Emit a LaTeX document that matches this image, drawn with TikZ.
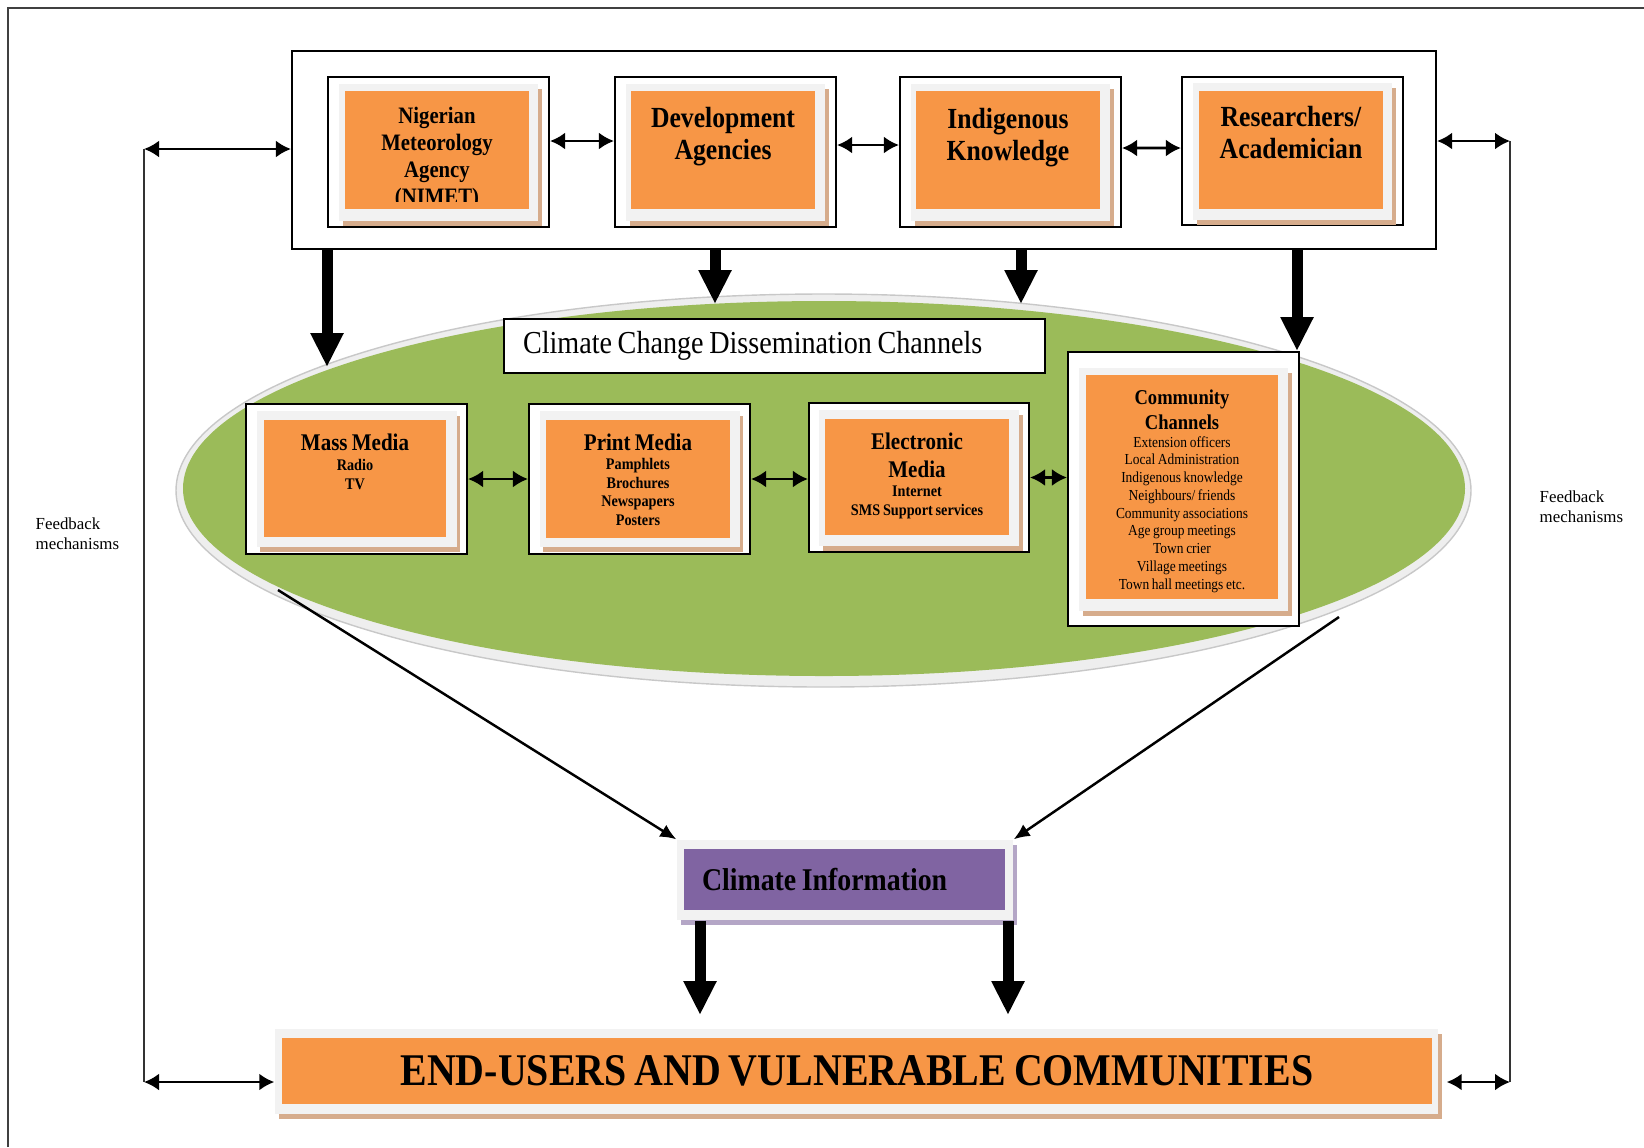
\documentclass[tikz,border=0pt]{standalone}
\usepackage{fontspec}
\setmainfont{Liberation Serif}[FakeStretch=0.88, WordSpace=0.8]
\newfontfamily\plainfont{Liberation Serif}
\usetikzlibrary{arrows.meta,shapes.geometric,shadows}

\definecolor{blockorange}{RGB}{247,150,70}
\definecolor{fieldgreen}{RGB}{155,187,89}
\definecolor{infopurple}{RGB}{128,100,162}
\definecolor{panelgray}{RGB}{242,242,242}
\definecolor{shadowtan}{RGB}{214,172,140}
\definecolor{shadowlilac}{RGB}{180,166,198}
\definecolor{rimgray}{RGB}{238,238,238}
\definecolor{rimedge}{RGB}{200,200,200}

\begin{document}
\begin{tikzpicture}[x=0.1mm, y=-0.1mm,
  chanframe/.style={draw=black, line width=0.6pt, fill=white, inner sep=0},
  chanpanel/.style={fill=panelgray, inner sep=0,
    drop shadow={shadow xshift=0.35mm, shadow yshift=-0.5mm, fill=#1, opacity=1}},
  chanpanel/.default=shadowtan,
  chanblock/.style={fill=blockorange, inner sep=0, minimum width=18.4mm, minimum height=11.8mm},
  headtxt/.style={font=\fontsize{8.3}{9.2}\selectfont\bfseries, align=center, inner sep=0, anchor=north},
  itemtxt/.style={font=\fontsize{4.6}{5.25}\selectfont\bfseries, align=center, inner sep=0, anchor=north},
  feedtxt/.style={font=\plainfont\fontsize{4.8}{5.7}\selectfont, align=left, anchor=west, inner sep=0},
  biarrow/.style={line width=0.75pt, {Latex[length=1.5mm,width=1.7mm]}-{Latex[length=1.5mm,width=1.7mm]}},
  thinarrow/.style={line width=0.7pt, -{Latex[length=1.6mm,width=1.4mm]}},
  feedline/.style={line width=0.6pt, draw=black!80},
  bigarrow/.style={line width=1.1mm, -{Triangle[length=3.4mm,width=3.1mm]}}
]

\useasboundingbox (0,0) rectangle (1644,1147);

% page frame
\draw[line width=0.6pt, draw=black!75] (8,1147) -- (8,8) -- (1644,8);

% sources
\node[chanframe, minimum width=114.4mm, minimum height=19.8mm] (sources) at (864,150) {};

% dissemination field
\node[ellipse, fill=rimgray, draw=rimedge, line width=0.4pt, inner sep=0,
  minimum width=129.5mm, minimum height=39.3mm] (field-rim) at (823.5,490.5) {};
\node[ellipse, fill=fieldgreen, inner sep=0,
  minimum width=128.2mm, minimum height=37.5mm] (field) at (824,488.5) {};
\node[chanframe, font=\fontsize{9.1}{10}\selectfont, text width=50.3mm, inner xsep=1.9mm,
  minimum height=5.4mm, align=flush left] (dissem) at (774.5,346) {Climate Change Dissemination Channels};

% frames and panels
\foreach \n/\x/\y/\w/\h/\pw/\ph in {
  nimet/438.5/152/221/150/199/137,
  devag/725.5/152/221/150/199/137,
  indig/1010.5/152/221/150/199/137,
  resac/1292.5/151/221/148/199/137,
  mass/356.5/479/221/150/200/136,
  print/639.5/479/221/150/200/136,
  elec/919/477.5/220/149/200/136,
  comm/1183.5/489/231/274/209/243}
{
  \node[chanframe, minimum width=\w*0.1mm, minimum height=\h*0.1mm] (\n-frame) at (\x,\y) {};
  \node[chanpanel, minimum width=\pw*0.1mm, minimum height=\ph*0.1mm] (\n-panel) at (\x,\y) {};
}

% sources blocks
\node[chanblock] (nimet) at (437,150) {};
\node[chanblock] (devag) at (723,150) {};
\node[chanblock] (indig) at (1008,150) {};
\node[chanblock] (resac) at (1291,150) {};

\begin{scope}
  \clip (nimet.north west) rectangle ([yshift=0.8mm]nimet.south east);
  \node[headtxt, font=\fontsize{6.7}{7.7}\selectfont\bfseries] (nimet-txt)
    at ([yshift=-1.6mm]nimet.north) {Nigerian\\Meteorology\\Agency\\(NIMET)};
\end{scope}
\node[headtxt] (devag-txt) at ([yshift=-1.6mm]devag.north) {Development\\Agencies};
\node[headtxt] (indig-txt) at ([yshift=-1.7mm]indig.north) {Indigenous\\Knowledge};
\node[headtxt] (resac-txt) at ([yshift=-1.5mm]resac.north) {Researchers/\\Academician};

% channel blocks
\node[chanblock, minimum width=18.2mm, minimum height=11.7mm] (mass) at (355,478.5) {};
\node[chanblock] (print) at (638,478.5) {};
\node[chanblock, minimum height=11.6mm] (elec) at (917,477) {};
\node[chanblock, minimum width=19.2mm, minimum height=22.4mm] (comm) at (1182,487) {};

\node[itemtxt] (mass-txt) at ([yshift=-1.4mm]mass.north)
  {{\fontsize{6.8}{7.7}\selectfont Mass Media}\\[0.3pt]Radio\\[0.3pt]TV};
\node[itemtxt] (print-txt) at ([yshift=-1.4mm]print.north)
  {{\fontsize{6.8}{7.7}\selectfont Print Media}\\[0.4pt]Pamphlets\\Brochures\\Newspapers\\Posters};
\node[itemtxt, font=\fontsize{4.6}{5.5}\selectfont\bfseries] (elec-txt) at ([yshift=-1.4mm]elec.north)
  {{\fontsize{6.8}{7.7}\selectfont Electronic}\\[2.3pt]{\fontsize{6.8}{7.7}\selectfont Media}\\Internet\\SMS Support services};
\node[itemtxt, font=\fontsize{4.35}{5.05}\selectfont] (comm-txt) at ([yshift=-1.5mm]comm.north)
  {{\fontsize{6}{6.8}\selectfont\bfseries Community}\\[0.6pt]{\fontsize{6}{6.8}\selectfont\bfseries Channels}\\
   Extension officers\\Local Administration\\Indigenous knowledge\\Neighbours/ friends\\
   Community associations\\Age group meetings\\Town crier\\Village meetings\\Town hall meetings etc.};

% climate information
\node[chanpanel=shadowlilac, minimum width=33.6mm, minimum height=8mm] (info-panel) at (845,880) {};
\node[chanblock, fill=infopurple, minimum width=32.1mm, minimum height=6.1mm, text width=28.5mm,
  inner xsep=1.8mm, align=flush left, font=\fontsize{9}{10}\selectfont\bfseries] (info) at (844.5,879.5) {Climate Information};

% end-users
\node[chanpanel, minimum width=116.3mm, minimum height=8.5mm] (users-panel) at (856.5,1071.5) {};
\node[chanblock, minimum width=115mm, minimum height=6.6mm,
  font=\fontsize{12.9}{14}\selectfont\bfseries] (users) at (857,1071) {END-USERS AND VULNERABLE COMMUNITIES};

% links between sources
\draw[biarrow] ([yshift=1.1mm]nimet-frame.east) -- ([yshift=1.1mm]devag-frame.west);
\draw[biarrow] ([yshift=0.7mm]devag-frame.east) -- ([yshift=0.7mm]indig-frame.west);
\draw[biarrow] ([yshift=0.4mm]indig-frame.east) -- ([yshift=0.3mm]resac-frame.west);

% links between channels
\draw[biarrow] (mass-frame.east) -- (print-frame.west);
\draw[biarrow] (print-frame.east) -- (elec-frame.west |- print-frame.east);
\draw[biarrow] (elec-frame.east) -- (comm-frame.west |- elec-frame.east);

% feedback loops
\coordinate (fb-lt) at (144,149);
\coordinate (fb-lb) at (144,1082);
\coordinate (fb-rt) at (1510,141);
\coordinate (fb-rb) at (1510,1082);
\draw[biarrow] (fb-lt) -- (sources.west |- fb-lt);
\draw[feedline] (fb-lt) -- (fb-lb);
\draw[biarrow] (fb-lb) -- (users-panel.west |- fb-lb);
\draw[biarrow] (sources.east |- fb-rt) -- (fb-rt);
\draw[feedline] (fb-rt) -- (fb-rb);
\draw[biarrow, shorten <=0.8mm] (users-panel.east |- fb-rb) -- (fb-rb);

\node[feedtxt] (fb-ltxt) at (35,534) {Feedback\\mechanisms};
\node[feedtxt] (fb-rtxt) at (1539,507) {Feedback\\mechanisms};

% flows into the channels
\coordinate (into-1) at (327,367);
\coordinate (into-2) at (715,304);
\coordinate (into-3) at (1021,304);
\coordinate (into-4) at (1297,351);
\foreach \t in {into-1,into-2,into-3,into-4}
  \draw[bigarrow] (sources.south -| \t) -- (\t);

% channels to information
\coordinate (out-l) at (278,590);
\coordinate (out-r) at (1339,617);
\draw[thinarrow] (out-l) -- (info-panel.north west);
\draw[thinarrow] (out-r) -- (info-panel.north east);

% information to end-users
\coordinate (reach-l) at (700,1015);
\coordinate (reach-r) at (1008,1015);
\draw[bigarrow] (info-panel.south -| reach-l) -- (reach-l);
\draw[bigarrow] (info-panel.south -| reach-r) -- (reach-r);

\end{tikzpicture}
\end{document}
